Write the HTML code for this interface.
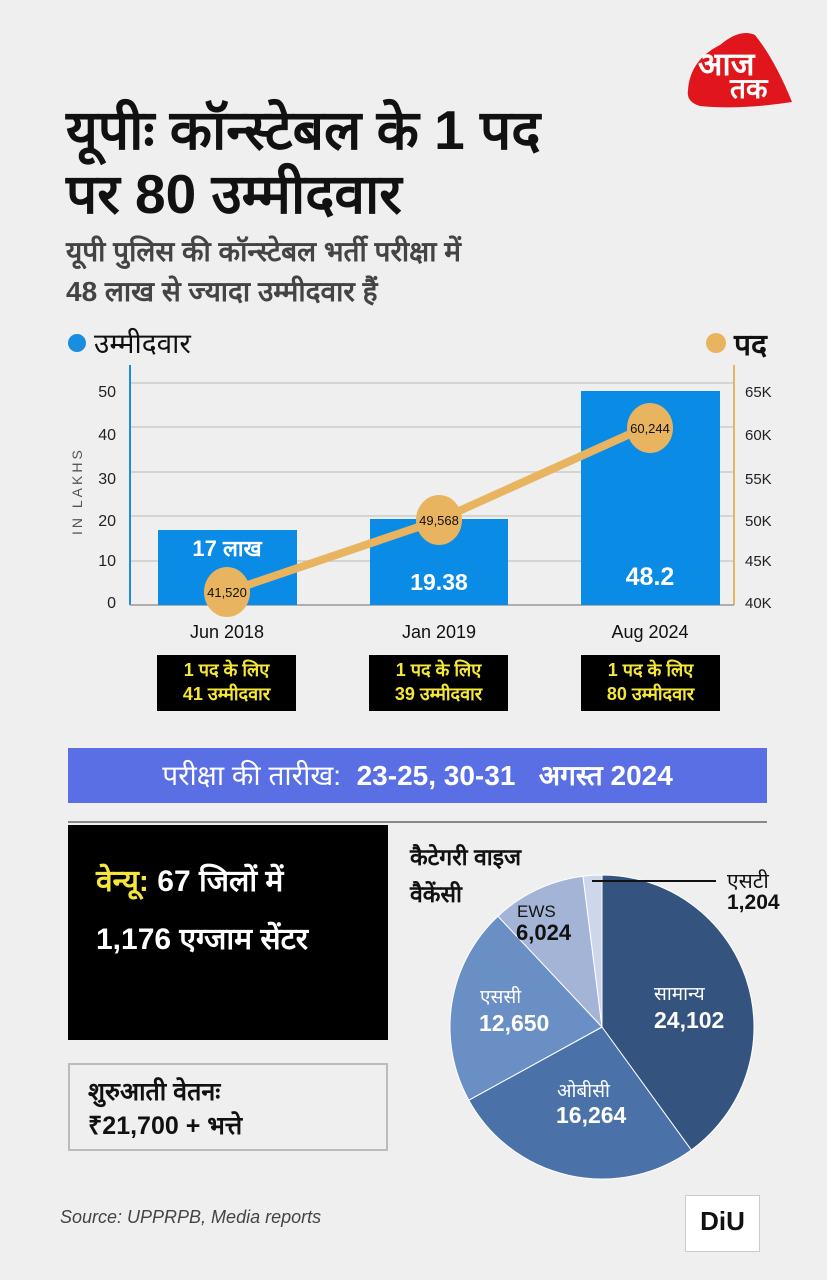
<!DOCTYPE html>
<html><head><meta charset="utf-8"><style>
body{margin:0;width:827px;height:1280px;background:#efefef;font-family:"Liberation Sans",sans-serif;position:relative;overflow:hidden}
.a{position:absolute}
.b{font-weight:bold}
.box{position:absolute;background:#000;color:#f5e63a;font-weight:bold;font-size:18px;text-align:center;line-height:24px;width:139px;height:56px;padding-top:3px;box-sizing:border-box}
</style></head><body>
<svg class="a" style="left:680px;top:20px" width="115" height="90" viewBox="0 0 115 90">
<path d="M8,70 Q10,40 40,25 Q60,8 75,15 Q95,40 112,82 Q60,90 20,86 Q6,82 8,70 Z" fill="#e0161c"/>
<text x="18" y="55" font-size="32" font-weight="bold" fill="#fff" font-family="sans-serif">आज</text>
<text x="50" y="78" font-size="28" font-weight="bold" fill="#fff" font-family="sans-serif">तक</text>
</svg>
<div class="a b" style="left:66px;top:98px;font-size:55px;line-height:64px;color:#111">यूपीः कॉन्स्टेबल के 1 पद<br>पर 80 उम्मीदवार</div>
<div class="a b" style="left:66px;top:232px;font-size:28px;line-height:40px;color:#444">यूपी पुलिस की कॉन्स्टेबल भर्ती परीक्षा में<br>48 लाख से ज्यादा उम्मीदवार हैं</div>
<svg class="a" style="left:0;top:320px" width="827" height="330" viewBox="0 320 827 330" font-family="Liberation Sans,sans-serif">
<circle cx="77" cy="343" r="9" fill="#1a8de0"/>
<text x="94" y="353" font-size="28" fill="#111">उम्मीदवार</text>
<circle cx="716" cy="343" r="10" fill="#e8b45f"/>
<text x="734" y="355" font-size="30" font-weight="bold" fill="#111">पद</text>
<g stroke="#ccc" stroke-width="1.5">
<line x1="130" y1="383" x2="734" y2="383"/><line x1="130" y1="427" x2="734" y2="427"/><line x1="130" y1="472" x2="734" y2="472"/><line x1="130" y1="516" x2="734" y2="516"/><line x1="130" y1="561" x2="734" y2="561"/>
</g>
<line x1="130" y1="365" x2="130" y2="605" stroke="#1a8de0" stroke-width="2"/>
<line x1="734" y1="365" x2="734" y2="605" stroke="#e8b45f" stroke-width="2"/>
<line x1="130" y1="605" x2="734" y2="605" stroke="#999" stroke-width="1.5"/>
<g font-size="16" fill="#222" text-anchor="end">
<text x="116" y="397">50</text><text x="116" y="440">40</text><text x="116" y="484">30</text><text x="116" y="526">20</text><text x="116" y="566">10</text><text x="116" y="608">0</text></g>
<g font-size="15" fill="#222">
<text x="745" y="397">65K</text><text x="745" y="440">60K</text><text x="745" y="484">55K</text><text x="745" y="526">50K</text><text x="745" y="566">45K</text><text x="745" y="608">40K</text></g>
<text transform="translate(82,535) rotate(-90)" font-size="14" fill="#555" letter-spacing="3">IN LAKHS</text>
<rect x="158" y="530" width="139" height="75" fill="#0a8be6"/>
<rect x="370" y="519" width="138" height="86" fill="#0a8be6"/>
<rect x="581" y="391" width="139" height="214" fill="#0a8be6"/>
<text x="227" y="556" font-size="22" font-weight="bold" fill="#fff" text-anchor="middle">17 लाख</text>
<text x="439" y="590" font-size="23" font-weight="bold" fill="#fff" text-anchor="middle">19.38</text>
<text x="650" y="585" font-size="25" font-weight="bold" fill="#fff" text-anchor="middle">48.2</text>
<polyline points="227,592 439,520 650,425" fill="none" stroke="#e8b45f" stroke-width="8"/>
<ellipse cx="227" cy="592" rx="23" ry="25" fill="#e8b45f"/>
<ellipse cx="439" cy="520" rx="23" ry="25" fill="#e8b45f"/>
<ellipse cx="650" cy="428" rx="23" ry="25" fill="#e8b45f"/>
<g font-size="13" fill="#111" text-anchor="middle"><text x="227" y="597">41,520</text><text x="439" y="525">49,568</text><text x="650" y="433">60,244</text></g>
<g font-size="18" fill="#111" text-anchor="middle"><text x="227" y="638">Jun 2018</text><text x="439" y="638">Jan 2019</text><text x="650" y="638">Aug 2024</text></g>
</svg>
<div class="box" style="left:157px;top:655px">1 पद के लिए<br>41 उम्मीदवार</div>
<div class="box" style="left:369px;top:655px">1 पद के लिए<br>39 उम्मीदवार</div>
<div class="box" style="left:581px;top:655px">1 पद के लिए<br>80 उम्मीदवार</div>
<div class="a" style="left:68px;top:748px;width:699px;height:55px;background:#5a6fe4;color:#fff;font-size:28px;line-height:55px;text-align:center">परीक्षा की तारीख:&nbsp; <b>23-25, 30-31 &nbsp; अगस्त 2024</b></div>
<div class="a" style="left:68px;top:821px;width:699px;height:2px;background:#888"></div>
<div class="a b" style="left:68px;top:825px;width:320px;height:215px;background:#000;color:#fff;font-size:30px;line-height:58px;box-sizing:border-box;padding:28px 0 0 28px"><span style="color:#f5e63a">वेन्यू:</span> 67 जिलों में<br>1,176 एग्जाम सेंटर</div>
<div class="a b" style="left:68px;top:1063px;width:320px;height:88px;border:2px solid #bbb;box-sizing:border-box;font-size:25px;line-height:34px;padding:10px 0 0 18px;color:#111">शुरुआती वेतनः<br>₹21,700 + भत्ते</div>
<svg class="a" style="left:400px;top:830px" width="427" height="360" viewBox="400 830 427 360" font-family="Liberation Sans,sans-serif">
<path d="M602,1027 L602,875 A152,152 0 0 1 691.3,1150 Z" fill="#34547f" stroke="#fff" stroke-width="1"/>
<path d="M602,1027 L691.3,1150 A152,152 0 0 1 468.8,1100.2 Z" fill="#4a72a8" stroke="#fff" stroke-width="1"/>
<path d="M602,1027 L468.8,1100.2 A152,152 0 0 1 497.9,916.2 Z" fill="#6a8fc4" stroke="#fff" stroke-width="1"/>
<path d="M602,1027 L497.9,916.2 A152,152 0 0 1 583,876.2 Z" fill="#a3b4d6" stroke="#fff" stroke-width="1"/>
<path d="M602,1027 L583,876.2 A152,152 0 0 1 602,875 Z" fill="#cdd6ea" stroke="#fff" stroke-width="1"/>
<line x1="592" y1="881" x2="716" y2="881" stroke="#111" stroke-width="2"/>
<text x="410" y="865" font-size="23" font-weight="bold" fill="#111">कैटेगरी वाइज</text>
<text x="410" y="902" font-size="23" font-weight="bold" fill="#111">वैकेंसी</text>
<text x="727" y="888" font-size="21" fill="#111">एसटी</text>
<text x="727" y="909" font-size="21" font-weight="bold" fill="#111">1,204</text>
<text x="517" y="917" font-size="17" fill="#111">EWS</text>
<text x="516" y="940" font-size="22" font-weight="bold" fill="#111">6,024</text>
<text x="654" y="1000" font-size="19" fill="#fff">सामान्य</text>
<text x="654" y="1028" font-size="23" font-weight="bold" fill="#fff">24,102</text>
<text x="480" y="1003" font-size="19" fill="#fff">एससी</text>
<text x="479" y="1031" font-size="23" font-weight="bold" fill="#fff">12,650</text>
<text x="557" y="1097" font-size="19" fill="#fff">ओबीसी</text>
<text x="556" y="1123" font-size="23" font-weight="bold" fill="#fff">16,264</text>
</svg>
<div class="a" style="left:60px;top:1207px;font-size:18px;font-style:italic;color:#444">Source: UPPRPB, Media reports</div>
<div class="a" style="left:685px;top:1195px;width:73px;height:55px;background:#fff;border:1px solid #ccc;font-weight:bold;font-size:26px;line-height:50px;text-align:center;color:#111">DiU</div>
</body></html>
